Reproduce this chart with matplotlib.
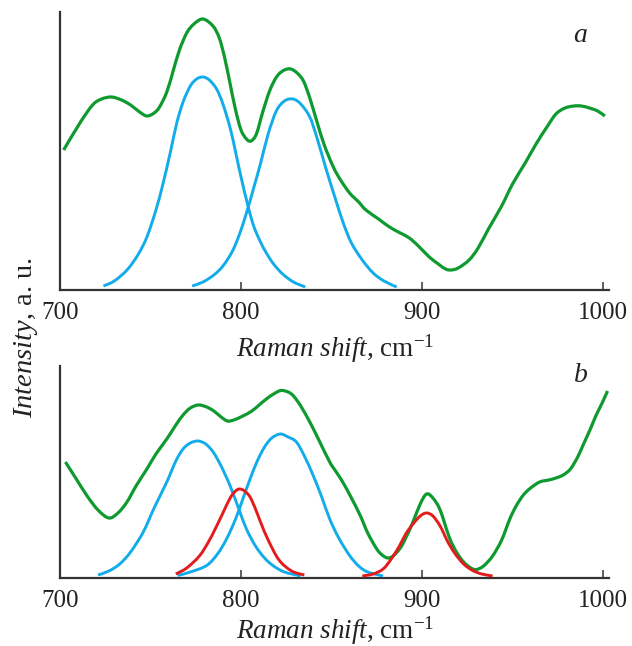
import matplotlib
matplotlib.use("Agg")
import matplotlib.pyplot as plt
from matplotlib.path import Path
from matplotlib.patches import PathPatch

plt.rcParams['font.family'] = ['Liberation Serif', 'DejaVu Serif']
plt.rcParams['mathtext.fontset'] = 'custom'
plt.rcParams['mathtext.rm'] = 'Liberation Serif'
plt.rcParams['mathtext.it'] = 'Liberation Serif:italic'

# ---- Panel a ----
a_green_x = [702, 711, 718, 723, 728.5, 734, 739, 744, 748, 752, 755, 759, 762.5, 766, 770, 774, 779,
             784.5, 788, 791, 794, 797, 800, 803, 805.5, 808.5, 812, 816, 820, 824, 827.5, 831, 834.5,
             838, 842, 846, 851, 855, 860, 865, 869, 876, 882, 888, 893, 898, 904, 909, 913, 916, 920,
             926, 931, 937, 944, 950, 957, 963, 969, 974, 979, 984, 988, 992.5, 997, 1001]
a_green_y = [140, 167, 185, 191, 193, 190, 185, 178, 174, 177, 183, 198, 219, 240, 257, 266, 271,
             264, 252, 232, 206, 180, 160, 151, 149, 156, 178, 200, 214, 220, 221, 217, 209,
             192, 168, 145, 123, 110, 97, 88, 80, 71, 63, 57, 52, 44, 33, 26, 21, 20, 22,
             30, 42, 62, 84, 106, 127, 146, 163, 176, 182, 184, 184, 182, 179, 174]

a_blue1_x = [724, 730, 737, 743, 748, 753, 757, 761, 764.5, 768, 772, 775.5, 779, 782.5, 786.5, 790,
             794, 797, 800, 804, 807, 810.5, 814, 818, 823, 829, 835.5]
a_blue1_y = [4, 9, 20, 35, 53, 80, 107, 138, 167, 188, 204, 211, 213, 210, 201, 186,
             162, 138, 113, 83, 64, 49, 37, 26, 16, 8, 3]

a_blue2_x = [773, 779, 785, 790, 795, 799, 803, 807, 811, 815, 819.5, 824, 828.7, 833, 838, 842, 847,
             852, 856.5, 861, 867, 873, 879, 886]
a_blue2_y = [4, 8, 15, 24, 38, 55, 77, 102, 128, 156, 179, 189, 191, 186, 173, 152, 121,
             92, 67, 47, 30, 17, 9, 3]

# ---- Panel b ----
b_green_x = [703, 709, 715, 721, 727, 732, 737, 742, 748, 753, 759, 764, 768, 772, 776.5, 781, 785,
             789, 792.5, 796, 801, 806, 810, 814, 818, 822, 826, 829, 833, 838, 843, 849, 853, 856.5,
             861, 866, 870, 875, 878, 881, 884, 888, 891, 895, 899, 902.5, 906, 910, 915, 919, 923,
             927, 930, 934, 939, 944, 948.5, 952, 956, 960, 965, 970, 974, 978, 982, 986, 989, 993,
             996, 999.5, 1002.5]
b_green_y = [116, 99, 82, 68, 60, 65, 76, 92, 109, 124, 139, 153, 163, 170, 173, 171, 167,
             161, 157, 158, 162, 167, 173, 179, 184, 187.5, 186, 182, 172, 156, 138, 116, 105, 95,
             80, 62, 45, 29, 23, 20, 22, 30, 40, 56, 74, 84, 80, 68, 41, 26, 16,
             10, 8.5, 12, 22, 38, 59, 72, 83, 90, 96, 98, 100, 103, 109, 121, 133, 149,
             162, 175, 187]

b_blue1_x = [721, 727, 733, 739, 746, 752, 759, 764, 768, 772, 776.3, 780.5, 784.6, 789, 794, 799,
             803, 808, 813, 818, 824, 833]
b_blue1_y = [3, 7, 14, 26, 46, 70, 96, 117, 129, 135, 137, 134, 126, 112, 92, 68,
             49, 32, 20, 12, 6, 2]

b_blue2_x = [765, 772, 781, 787, 792, 797, 801, 805, 809, 813, 817, 821.7, 826, 830.6, 835, 840, 845,
             849, 854, 860, 865, 870, 878.5]
b_blue2_y = [2.5, 6, 12.5, 24, 39, 59, 79, 99, 117, 131, 140, 144, 141, 136, 122, 102, 79,
             59, 40, 22.5, 12, 6, 2]

b_red1_x = [764, 770, 777, 782, 786, 790, 794, 797, 799.3, 802, 805, 808, 811, 815, 821, 828, 835]
b_red1_y = [4, 10, 22, 36, 50, 65, 80, 87, 89, 87, 81, 69, 55, 38, 18, 7, 3]

b_red2_x = [867, 873, 878.5, 883, 887.5, 891, 895, 899, 902.5, 906, 910, 914, 918, 923, 928, 933, 939]
b_red2_y = [2, 4, 9, 19, 32, 44, 54, 62, 65, 62, 52, 37, 25, 14, 7.5, 4, 2]

x_ticks = [700, 800, 900, 1000]
x_label = r'$\mathit{Raman\ shift}$, cm$^{-1}$'
y_label = r'$\mathit{Intensity}$, a. u.'
panel_labels = ['a', 'b']

GREEN = '#0e9a2e'
BLUE = '#12aceb'
RED = '#e31b1c'
AXC = '#333333'
TXT = '#222222'

fig = plt.figure(figsize=(6.32, 6.46), dpi=100)
W, H = 632, 646


def smooth_line(ax, xs, ys, color, lw, z=2):
    """Draw a smooth curve passing through the read points (Catmull-Rom as cubic Bezier)."""
    pts = list(zip(xs, ys))
    n = len(pts)
    verts = [pts[0]]
    codes = [Path.MOVETO]
    for i in range(n - 1):
        p0 = pts[i - 1] if i > 0 else pts[i]
        p1 = pts[i]
        p2 = pts[i + 1]
        p3 = pts[i + 2] if i + 2 < n else pts[i + 1]
        c1 = (p1[0] + (p2[0] - p0[0]) / 6.0, p1[1] + (p2[1] - p0[1]) / 6.0)
        c2 = (p2[0] - (p3[0] - p1[0]) / 6.0, p2[1] - (p3[1] - p1[1]) / 6.0)
        verts += [c1, c2, p2]
        codes += [Path.CURVE4] * 3
    patch = PathPatch(Path(verts, codes), facecolor='none', edgecolor=color, lw=lw,
                      capstyle='butt', joinstyle='round', zorder=z)
    ax.add_patch(patch)


def make_ax(left, top, right, bottom, ymax):
    ax = fig.add_axes([left / W, 1 - bottom / H, (right - left) / W, (bottom - top) / H])
    ax.set_xlim(700, 1003.3)
    ax.set_ylim(0, ymax)
    for s in ['top', 'right']:
        ax.spines[s].set_visible(False)
    for s in ['left', 'bottom']:
        ax.spines[s].set_color(AXC)
        ax.spines[s].set_linewidth(1.6)
    ax.set_yticks([])
    ax.set_xticks(x_ticks)
    ax.set_xticklabels([str(t) for t in x_ticks])
    ax.tick_params(axis='x', direction='in', length=6, width=1.1, color=AXC,
                   labelsize=18, pad=8.5, labelcolor=TXT)
    return ax


ax1 = make_ax(60, 12, 609, 290, 278)
smooth_line(ax1, a_blue1_x, a_blue1_y, BLUE, 2.1)
smooth_line(ax1, a_blue2_x, a_blue2_y, BLUE, 2.1)
smooth_line(ax1, a_green_x, a_green_y, GREEN, 2.3, z=3)

ax2 = make_ax(60, 366, 609, 578, 212)
smooth_line(ax2, b_green_x, b_green_y, GREEN, 2.3)
smooth_line(ax2, b_blue1_x, b_blue1_y, BLUE, 2.1, z=3)
smooth_line(ax2, b_blue2_x, b_blue2_y, BLUE, 2.1, z=3)
smooth_line(ax2, b_red1_x, b_red1_y, RED, 2.1, z=4)
smooth_line(ax2, b_red2_x, b_red2_y, RED, 2.1, z=4)

# axis titles
fig.text(335.5 / W, 1 - 357 / H, x_label, fontsize=19.5, color=TXT, ha='center', va='baseline')
fig.text(335.5 / W, 1 - 639 / H, x_label, fontsize=19.5, color=TXT, ha='center', va='baseline')
fig.text(26 / W, 1 - 338 / H, y_label, rotation=90, fontsize=20.5, color=TXT,
         ha='center', va='center')

# panel letters
fig.text(580 / W, 1 - 35 / H, panel_labels[0], fontsize=20, style='italic', color=TXT,
         ha='center', va='center')
fig.text(581 / W, 1 - 375 / H, panel_labels[1], fontsize=20, style='italic', color=TXT,
         ha='center', va='center')

fig.savefig('out.png', dpi=100)
